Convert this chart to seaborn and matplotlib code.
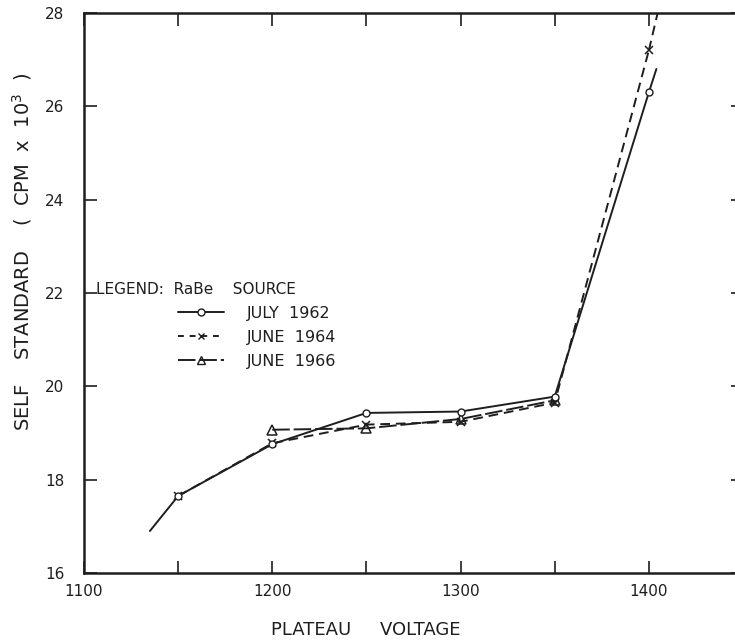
import matplotlib
matplotlib.use("Agg")
import matplotlib.pyplot as plt
import seaborn as sns
import pandas as pd
from matplotlib.lines import Line2D

# ---- data ----
voltage = [1150, 1200, 1250, 1300, 1350, 1400]
july_1962 = [17.65, 18.76, 19.43, 19.46, 19.78, 26.30]
june_1964 = [17.65, 18.78, 19.18, 19.24, 19.65, 27.20]
voltage_1966 = [1200, 1250, 1300, 1350]
june_1966 = [19.07, 19.10, 19.30, 19.70]

# unmarked line ends (lead-in / extrapolation)
lead_v_1962 = [1135, 1150]
lead_y_1962 = [16.90, 17.65]
ext_v_1962 = [1400, 1404]
ext_y_1962 = [26.30, 26.80]
ext_v_1964 = [1400, 1407]
ext_y_1964 = [27.20, 28.40]

xticks = [1100, 1200, 1300, 1400]
minor_xticks = [1150, 1250, 1350]
yticks = [16, 18, 20, 22, 24, 26, 28]
series_names = ["JULY  1962", "JUNE  1964", "JUNE  1966"]

sns.set_theme(style="ticks")
plt.rcParams['font.family'] = ['DejaVu Sans']

fig = plt.figure(figsize=(7.35, 6.4), dpi=100)
ax = fig.add_axes([84 / 735, 67 / 640, (743 - 84) / 735, 560 / 640])

ink = "#1e1e1e"
LW = 1.4

sns.lineplot(x=voltage, y=july_1962, color=ink, linewidth=LW, marker="o",
             markersize=5, markerfacecolor="white", markeredgecolor=ink,
             markeredgewidth=1.0, ax=ax, zorder=3)
sns.lineplot(x=voltage, y=june_1964, color=ink, linewidth=LW, marker="x",
             markersize=6, markeredgecolor=ink, markeredgewidth=1.1,
             linestyle=(0, (5, 3)), ax=ax, zorder=2)
sns.lineplot(x=voltage_1966, y=june_1966, color=ink, linewidth=LW, marker="^",
             markersize=7, markerfacecolor="none", markeredgecolor=ink,
             markeredgewidth=1.1, linestyle=(0, (9, 2)), ax=ax, zorder=2)

sns.lineplot(x=lead_v_1962, y=lead_y_1962, color=ink, linewidth=LW, ax=ax)
sns.lineplot(x=ext_v_1962, y=ext_y_1962, color=ink, linewidth=LW, ax=ax)
sns.lineplot(x=ext_v_1964, y=ext_y_1964, color=ink, linewidth=LW,
             linestyle=(0, (5, 3)), ax=ax)

ax.set_xlim(1100, 1450)
ax.set_ylim(16, 28)
ax.set_xticks(xticks)
ax.set_xticks(minor_xticks, minor=True)
ax.set_yticks(yticks)
ax.set_xticklabels([str(t) for t in xticks])
ax.set_yticklabels([str(t) for t in yticks])
ax.tick_params(axis="both", which="both", direction="in", length=9, width=1.2,
               colors=ink, top=True, right=True, labelsize=11)
ax.tick_params(axis="x", pad=8)
ax.tick_params(axis="y", pad=14)
for sp in ax.spines.values():
    sp.set_linewidth(1.8)
    sp.set_color(ink)

ax.set_xlabel("PLATEAU     VOLTAGE", fontsize=13, color=ink)
ax.xaxis.set_label_coords((366 - 84) / 659, (573 - 630) / 560)
ax.xaxis.label.set_verticalalignment("center")
ax.set_ylabel("SELF    STANDARD    (  CPM  x  10$^3$  )", fontsize=14,
              color=ink)
ax.yaxis.set_label_coords((22 - 84) / 659, (573 - 252) / 560)
ax.yaxis.label.set_verticalalignment("center")

ax.text((96 - 84) / 659, (573 - 290) / 560, "LEGEND:  RaBe    SOURCE",
        transform=ax.transAxes, ha="left", va="center", fontsize=11,
        color=ink)

handles = [
    Line2D([], [], color=ink, lw=1.4, marker="o", markersize=5,
           markerfacecolor="white"),
    Line2D([], [], color=ink, lw=1.4, marker="x", markersize=5,
           linestyle=(0, (3, 3))),
    Line2D([], [], color=ink, lw=1.4, marker="^", markersize=6,
           markerfacecolor="none", linestyle=(0, (9, 2))),
]
leg = ax.legend(handles, series_names, loc="upper left",
                bbox_to_anchor=((178 - 84) / 659, (573 - 306) / 560),
                frameon=False, fontsize=11.5, handlelength=2.9,
                handletextpad=1.4, labelspacing=0.55, borderaxespad=0,
                borderpad=0)
for t in leg.get_texts():
    t.set_color(ink)

fig.savefig("out.png", dpi=100)
